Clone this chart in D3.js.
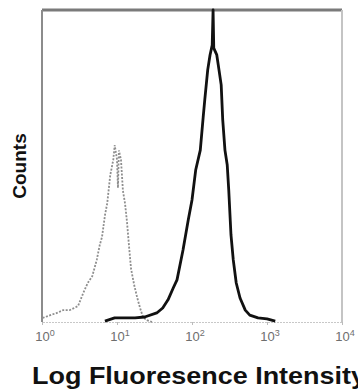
<!DOCTYPE html>
<html>
<head>
<meta charset="utf-8">
<script src="https://cdn.jsdelivr.net/npm/d3@7"></script>
<style>
  body { margin: 0; background: #fff; }
  svg { display: block; font-family: "Liberation Sans", Arial, sans-serif; }
</style>
</head>
<body>
<div id="chart"></div>
<script>
// stained sample (solid black) - intensity vs counts
var stainedIntensity = [6.9, 9.3, 12.9, 17.4, 23.4, 33.9, 40.7, 47.9, 56.2, 63.1, 75.9, 89.1, 100, 112, 129, 141, 148, 162, 174, 186, 191, 195, 214, 229, 245, 257, 275, 295, 309, 331, 355, 389, 437, 513, 589, 759, 1000, 1288];
var stainedCounts    = [0.3, 1.3, 1.3, 1.3, 1.6, 2.9, 4.5, 7.1, 10.9, 13.5, 23.1, 32.7, 39.1, 48.7, 55.1, 65.7, 71.2, 80.8, 85.6, 88.8, 100, 87.8, 85.6, 80.8, 76, 64.7, 55.1, 50.3, 42.3, 27.9, 19.9, 12.5, 7.7, 3.8, 2.2, 1.3, 1.0, 0.3];

// isotype control (dotted gray)
var controlIntensity = [1.02, 1.29, 1.58, 1.91, 2.34, 3.02, 3.55, 4.07, 4.68, 5.37, 5.89, 6.31, 6.92, 7.41, 8.13, 8.91, 9.33, 10.0, 10.3, 10.6, 11.3, 12.0, 12.8, 13.6, 14.5, 15.4, 16.9, 18.5, 20.3, 22.2, 25.1, 29.3];
var controlCounts    = [1.3, 2.2, 2.9, 3.8, 3.8, 5.1, 9.3, 12.5, 14.7, 19.9, 24.7, 27.2, 34.3, 38.1, 47.1, 51.9, 56.7, 52, 43, 55, 52, 42, 38, 32, 24, 17, 12, 8, 4.5, 1.6, 0.6, 0];

var decadeTicks = [1, 10, 100, 1000, 10000];
var decadeExp   = ["0", "1", "2", "3", "4"];

var width = 358, height = 392;
var margin = {top: 10, right: 16, bottom: 70, left: 42};

var svg = d3.select("#chart").append("svg")
    .attr("width", width)
    .attr("height", height);

var x = d3.scaleLog().domain([1, 10000]).range([margin.left, width - margin.right]);
var y = d3.scaleLinear().domain([0, 100]).range([height - margin.bottom, margin.top]);

function pts(xs, ys) { return xs.map(function(v, i) { return [v, ys[i]]; }); }

var line = d3.line()
    .x(function(d) { return x(d[0]); })
    .y(function(d) { return y(d[1]); });

// bottom axis (faint)
var xAxis = svg.append("g")
    .attr("transform", "translate(0," + y(0) + ")")
    .call(d3.axisBottom(x).tickValues(decadeTicks).tickSize(3).tickFormat(""));
xAxis.select(".domain").attr("stroke", "#c8c8c8").attr("stroke-dasharray", "2,1");
xAxis.selectAll(".tick line").attr("stroke", "#bbb");

// tick labels 10^n
var lab = svg.append("g").selectAll("text")
    .data(decadeTicks)
  .enter().append("text")
    .attr("x", function(d) { return x(d) + 3; })
    .attr("y", y(0) + 19)
    .attr("text-anchor", "middle")
    .attr("fill", "#6e6e6e")
    .attr("font-size", 13);
lab.append("tspan").text("10");
lab.append("tspan").attr("dy", -5).attr("font-size", 9).text(function(d, i) { return decadeExp[i]; });

// frame
svg.append("line").attr("x1", x(1)).attr("x2", x(10000)).attr("y1", y(100)).attr("y2", y(100))
    .attr("stroke", "#7a7a7a").attr("stroke-width", 3);
svg.append("line").attr("x1", x(1)).attr("x2", x(1)).attr("y1", y(100)).attr("y2", y(0))
    .attr("stroke", "#8c8c8c").attr("stroke-width", 2);
svg.append("line").attr("x1", x(10000)).attr("x2", x(10000)).attr("y1", y(100)).attr("y2", y(0))
    .attr("stroke", "#c4c4c4").attr("stroke-width", 2);

// control histogram
svg.append("path")
    .datum(pts(controlIntensity, controlCounts))
    .attr("fill", "none")
    .attr("stroke", "#8e8e8e")
    .attr("stroke-width", 1.8)
    .attr("stroke-dasharray", "2,1.5")
    .attr("d", line);

// stained histogram
svg.append("path")
    .datum(pts(stainedIntensity, stainedCounts))
    .attr("fill", "none")
    .attr("stroke", "#111")
    .attr("stroke-width", 2.8)
    .attr("stroke-linejoin", "round")
    .attr("d", line);

// axis titles
svg.append("text")
    .attr("transform", "translate(26,166) rotate(-90)")
    .attr("text-anchor", "middle")
    .attr("font-weight", "bold")
    .attr("font-size", 19)
    .attr("fill", "#111")
    .text("Counts");

svg.append("text")
    .attr("x", 32)
    .attr("y", 384)
    .attr("font-weight", "bold")
    .attr("font-size", 24)
    .attr("fill", "#111")
    .attr("textLength", 334)
    .attr("lengthAdjust", "spacingAndGlyphs")
    .text("Log Fluoresence Intensity");
</script>
</body>
</html>
